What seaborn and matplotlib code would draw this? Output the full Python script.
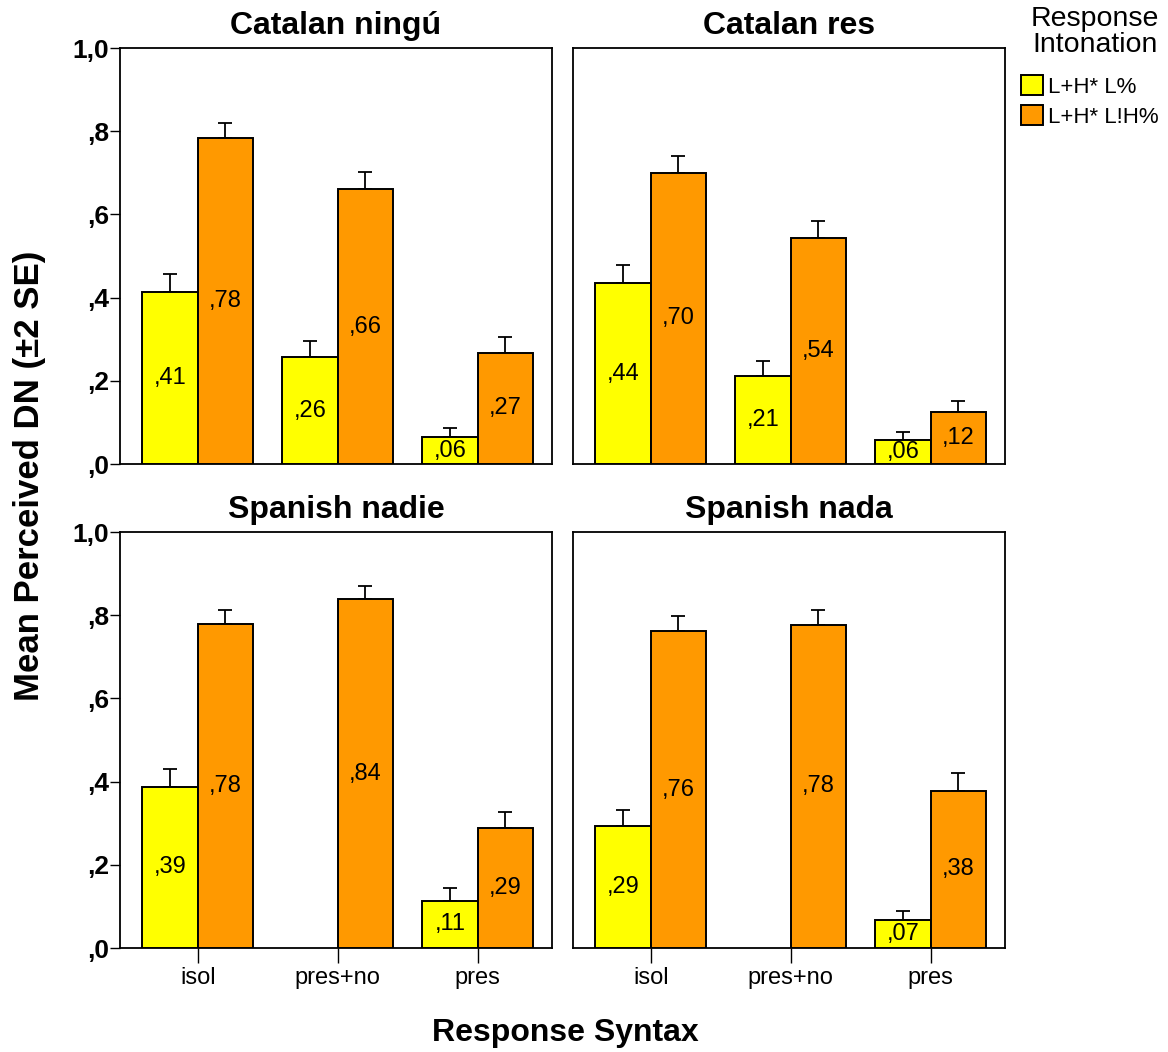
import numpy as np
import pandas as pd
import seaborn as sns
import matplotlib.pyplot as plt
from matplotlib.patches import Patch
from matplotlib.container import BarContainer

sns.set_style("white")
plt.rcParams["font.family"] = ["Liberation Sans", "DejaVu Sans"]
plt.rcParams["text.color"] = "black"
plt.rcParams["xtick.color"] = "black"
plt.rcParams["ytick.color"] = "black"

# %%
syntax = ["isol", "pres+no", "pres"]
intonation = ["L+H* L%", "L+H* L!H%"]
panels = ["Catalan ningú", "Catalan res", "Spanish nadie", "Spanish nada"]

# mean perceived DN per panel: [L%, L!H%] x syntax (NaN = no data)
mean_low = {
    "Catalan ningú": [0.413, 0.257, 0.064],
    "Catalan res": [0.435, 0.212, 0.058],
    "Spanish nadie": [0.388, np.nan, 0.113],
    "Spanish nada": [0.293, np.nan, 0.067],
}
mean_high = {
    "Catalan ningú": [0.784, 0.661, 0.267],
    "Catalan res": [0.700, 0.543, 0.124],
    "Spanish nadie": [0.778, 0.838, 0.288],
    "Spanish nada": [0.761, 0.777, 0.378],
}
# 2 SE
err_low = {
    "Catalan ningú": [0.043, 0.039, 0.022],
    "Catalan res": [0.043, 0.035, 0.020],
    "Spanish nadie": [0.042, np.nan, 0.031],
    "Spanish nada": [0.039, np.nan, 0.022],
}
err_high = {
    "Catalan ningú": [0.036, 0.041, 0.038],
    "Catalan res": [0.040, 0.042, 0.027],
    "Spanish nadie": [0.034, 0.032, 0.039],
    "Spanish nada": [0.038, 0.036, 0.042],
}

colors = ["#FFFF00", "#FF9900"]

rows = []
for p in panels:
    for i, s in enumerate(syntax):
        rows.append((p, s, intonation[0], mean_low[p][i], err_low[p][i]))
        rows.append((p, s, intonation[1], mean_high[p][i], err_high[p][i]))
df = pd.DataFrame(rows, columns=["panel", "syntax", "intonation", "dn", "se2"])

# %%
W, H = 1168, 1052
fig = plt.figure(figsize=(W / 100, H / 100), dpi=100)

lefts = [120, 573]
tops = [48, 532]
pw, ph = 432, 416

for k, p in enumerate(panels):
    r, c = divmod(k, 2)
    ax = fig.add_axes([lefts[c] / W, 1 - (tops[r] + ph) / H, pw / W, ph / H])
    d = df[df["panel"] == p].dropna(subset=["dn"])
    sns.barplot(data=d, x="syntax", y="dn", hue="intonation", order=syntax,
                hue_order=intonation, palette=colors, errorbar=None,
                edgecolor="black", linewidth=1.4, width=0.79, saturation=1,
                legend=False, ax=ax, zorder=3)

    bars = [b for cont in ax.containers if isinstance(cont, BarContainer)
            for b in cont]
    for bar in bars:
        v = bar.get_height()
        if np.isnan(v):
            continue
        xc = bar.get_x() + bar.get_width() / 2
        idx = int(round(xc))
        lvl = 0 if xc < idx else 1
        e = (err_low if lvl == 0 else err_high)[p][idx]
        ax.errorbar(xc, v, yerr=[[0], [e]], fmt="none", ecolor="black",
                    elinewidth=1.3, capsize=4.7, capthick=1.3, zorder=2)
        ax.text(xc, v / 2, "," + f"{int(round(v * 100)):02d}",
                ha="center", va="center", fontsize=17, zorder=5)

    ax.set_xlim(-0.555, 2.53)
    ax.set_ylim(0, 1.0)
    ax.set_title(p, fontsize=23, fontweight="bold", pad=10)
    ax.set_xlabel("")
    ax.set_ylabel("")
    for sp in ax.spines.values():
        sp.set_visible(True)
        sp.set_color("black")
        sp.set_linewidth(1.3)

    yt = [0, 0.2, 0.4, 0.6, 0.8, 1.0]
    ax.set_yticks(yt)
    if c == 0:
        ax.set_yticklabels([",0", ",2", ",4", ",6", ",8", "1,0"],
                           fontsize=19, fontweight="bold")
        ax.tick_params(axis="y", length=7, width=1, left=True, pad=1)
    else:
        ax.set_yticklabels([])
        ax.tick_params(axis="y", length=0)

    if r == 1:
        ax.tick_params(axis="x", length=11, width=1, bottom=True,
                       labelsize=17, pad=3)
    else:
        ax.set_xticklabels([])
        ax.tick_params(axis="x", length=0)

fig.text(30 / W, 1 - 476 / H, "Mean Perceived DN (±2 SE)", rotation=90,
         ha="center", va="center", fontsize=25, fontweight="bold")
fig.text(565 / W, 1 - 1033 / H, "Response Syntax", ha="center", va="center",
         fontsize=23, fontweight="bold")

fig.text(1095 / W, 1 - 32 / H, "Response\nIntonation", ha="center",
         va="center", fontsize=20.5, linespacing=1.05)
handles = [Patch(facecolor=colors[0], edgecolor="black", linewidth=1.4),
           Patch(facecolor=colors[1], edgecolor="black", linewidth=1.4)]
fig.legend(handles, intonation, loc="upper left",
           bbox_to_anchor=(1021 / W, 1 - 75 / H),
           frameon=False, fontsize=16,
           handlelength=1.0, handleheight=1.0, handletextpad=0.2,
           labelspacing=0.35, borderpad=0.0, borderaxespad=0.0)

fig.savefig("out.png", dpi=100)
